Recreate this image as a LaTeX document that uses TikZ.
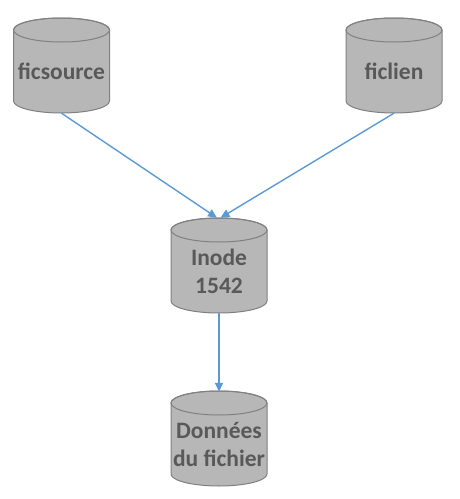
\documentclass[tikz,border=0pt]{standalone}
\usepackage{fontspec}
\setmainfont{Carlito}
\usetikzlibrary{arrows.meta}
\definecolor{cylfill}{RGB}{183,183,183}
\definecolor{cylborder}{RGB}{128,128,128}
\definecolor{cyltextc}{RGB}{89,89,89}
\definecolor{arrowc}{RGB}{91,155,213}
\tikzset{
  cylnode/.style={rectangle, minimum width=96pt, minimum height=95pt, inner sep=0pt},
  cylshape/.style={fill=cylfill, draw=cylborder, line width=1pt},
  cylline/.style={draw=cylborder, line width=1pt},
  cyltext/.style={text=cyltextc, font=\fontsize{23.5}{28}\selectfont\bfseries, align=center, inner sep=0pt},
  link/.style={draw=arrowc, line width=1.4pt, -{Triangle[width=8pt,length=9pt]}}
}
\newcommand\mycyl[4]{%
  \node[cylnode] (#1) at (#2,-#3-47.5) {};
  \path[cylshape] (#2-48,-#3-12) -- (#2-48,-#3-83)
     arc[start angle=180,end angle=360,x radius=48,y radius=12]
     -- (#2+48,-#3-12)
     arc[start angle=0,end angle=180,x radius=48,y radius=12] -- cycle;
  \draw[cylline] (#2,-#3-12) ellipse [x radius=48,y radius=12];
  \node[cyltext] at (#2,-#3-53) {#4};
}
\begin{document}
\begin{tikzpicture}[x=1pt,y=1pt]
\useasboundingbox (0,0) rectangle (460,-499);
\mycyl{fs}{61.5}{18}{ficsource}
\mycyl{fl}{394}{18}{ficlien}
\mycyl{in}{219}{218}{Inode\\1542}
\mycyl{dn}{219}{391}{Données\\du fichier}
\draw[link] (fs.south) -- ([xshift=-2pt]in.north);
\draw[link] (fl.south) -- ([xshift=1.5pt]in.north);
\draw[link] (in.south) -- ([yshift=-1pt]dn.north);
\end{tikzpicture}
\end{document}
